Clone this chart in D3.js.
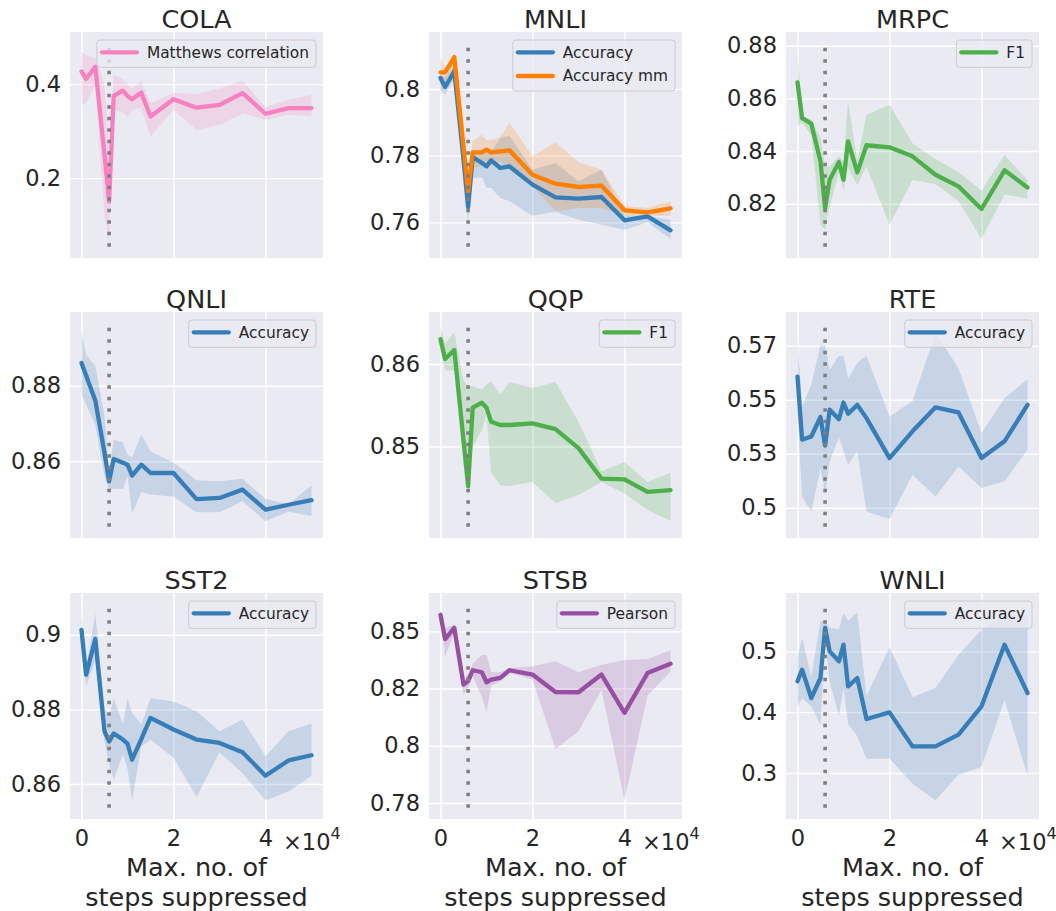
<!DOCTYPE html>
<html>
<head>
<meta charset="utf-8">
<script src="https://cdn.jsdelivr.net/npm/d3@7/dist/d3.min.js"></script>
<style>
body { margin: 0; background: #ffffff; }
svg { font-family: "DejaVu Sans", sans-serif; }
</style>
</head>
<body>
<svg id="chart" width="1056" height="911"></svg>
<script>
// steps at which each run was evaluated
var steps = [0, 1000, 3000, 5000, 6000, 7000, 9000, 10000, 11000, 13000, 15000, 20000, 25000, 30000, 35000, 40000, 45000, 50000];
var markStep = 6000;
var xTicks = [0, 20000, 40000];
var xTickLabels = ['0', '2', '4'];

var colaMcc   = [0.427, 0.411, 0.437, 0.25, 0.150, 0.375, 0.386, 0.375, 0.368, 0.382, 0.331, 0.368, 0.350, 0.356, 0.381, 0.337, 0.349, 0.349];
var colaMccHi = [0.468, 0.462, 0.455, 0.40, 0.25, 0.42, 0.41, 0.40, 0.39, 0.406, 0.36, 0.381, 0.379, 0.391, 0.407, 0.351, 0.367, 0.377];
var colaMccLo = [0.356, 0.36, 0.40, 0.12, 0.06, 0.345, 0.34, 0.33, 0.345, 0.35, 0.289, 0.345, 0.303, 0.313, 0.338, 0.324, 0.335, 0.331];

var mnliAcc   = [0.8033, 0.8006, 0.8053, 0.779, 0.7646, 0.7796, 0.7778, 0.7768, 0.7786, 0.7763, 0.7768, 0.7713, 0.7675, 0.7671, 0.7676, 0.7606, 0.7618, 0.7576];
var mnliAccHi = [0.8043, 0.8035, 0.8068, 0.785, 0.7693, 0.7813, 0.781, 0.7813, 0.781, 0.7853, 0.786, 0.7758, 0.7778, 0.7723, 0.7758, 0.762, 0.762, 0.7608];
var mnliAccLo = [0.7998, 0.7983, 0.803, 0.772, 0.7603, 0.7733, 0.7735, 0.7703, 0.7703, 0.7673, 0.7663, 0.762, 0.7632, 0.7608, 0.7593, 0.7578, 0.76, 0.755];
var mnliMm    = [0.805, 0.805, 0.8096, 0.7827, 0.7693, 0.781, 0.781, 0.7818, 0.781, 0.7813, 0.7816, 0.7743, 0.7716, 0.7706, 0.771, 0.7636, 0.763, 0.7642];
var mnliMmHi  = [0.8096, 0.806, 0.81, 0.79, 0.776, 0.7843, 0.7863, 0.7846, 0.7846, 0.7856, 0.7898, 0.7798, 0.784, 0.778, 0.7758, 0.765, 0.7643, 0.7663];
var mnliMmLo  = [0.7983, 0.8023, 0.806, 0.775, 0.7653, 0.7763, 0.777, 0.7783, 0.777, 0.7783, 0.7758, 0.7708, 0.7633, 0.7643, 0.7643, 0.7618, 0.7618, 0.762];

var mrpcF1   = [0.8661, 0.8525, 0.8504, 0.836, 0.8184, 0.8291, 0.8358, 0.8291, 0.8437, 0.8319, 0.8422, 0.8414, 0.838, 0.831, 0.8266, 0.818, 0.8327, 0.8262];
var mrpcF1Hi = [0.8778, 0.8535, 0.852, 0.845, 0.834, 0.834, 0.838, 0.836, 0.859, 0.836, 0.8538, 0.8576, 0.843, 0.837, 0.832, 0.825, 0.8385, 0.829];
var mrpcF1Lo = [0.8496, 0.8508, 0.846, 0.812, 0.8101, 0.819, 0.832, 0.825, 0.8335, 0.827, 0.8342, 0.812, 0.829, 0.8275, 0.821, 0.8066, 0.8235, 0.822];

var qnliAcc   = [0.886, 0.8827, 0.8761, 0.8622, 0.8547, 0.8606, 0.8596, 0.8591, 0.8562, 0.8591, 0.8569, 0.8569, 0.85, 0.8503, 0.8525, 0.8472, 0.8485, 0.8497];
var qnliAccHi = [0.8941, 0.8882, 0.8853, 0.872, 0.8572, 0.8657, 0.865, 0.8618, 0.861, 0.867, 0.8626, 0.8597, 0.855, 0.8547, 0.8554, 0.85, 0.8486, 0.8536];
var qnliAccLo = [0.8776, 0.875, 0.8697, 0.856, 0.8525, 0.8527, 0.8527, 0.856, 0.8463, 0.8518, 0.8512, 0.8506, 0.8465, 0.8465, 0.8494, 0.8441, 0.8467, 0.8455];

var qqpF1   = [0.863, 0.8606, 0.8617, 0.8508, 0.8452, 0.8547, 0.8553, 0.8547, 0.853, 0.8526, 0.8526, 0.8528, 0.8521, 0.8498, 0.8461, 0.846, 0.8445, 0.8447];
var qqpF1Hi = [0.8645, 0.8625, 0.8638, 0.858, 0.8573, 0.8573, 0.8569, 0.8575, 0.8579, 0.8563, 0.8578, 0.8571, 0.8578, 0.853, 0.847, 0.8481, 0.8457, 0.8468];
var qqpF1Lo = [0.8615, 0.8592, 0.8592, 0.848, 0.844, 0.85, 0.852, 0.8538, 0.8468, 0.8453, 0.8452, 0.8457, 0.8431, 0.8441, 0.8457, 0.8443, 0.8423, 0.841];

var rteAcc   = [0.5536, 0.5302, 0.5314, 0.5386, 0.528, 0.5413, 0.5378, 0.544, 0.5398, 0.5431, 0.5382, 0.5234, 0.5333, 0.5422, 0.5403, 0.5234, 0.5296, 0.5431];
var rteAccHi = [0.5672, 0.5425, 0.5506, 0.5654, 0.565, 0.5561, 0.5613, 0.5613, 0.553, 0.5586, 0.5613, 0.5388, 0.5444, 0.5697, 0.5567, 0.5327, 0.5456, 0.5527];
var rteAccLo = [0.540, 0.5092, 0.5036, 0.5197, 0.510, 0.5222, 0.531, 0.526, 0.5209, 0.5259, 0.5036, 0.5008, 0.5172, 0.5092, 0.5203, 0.5123, 0.5148, 0.5265];

var sst2Acc   = [0.9013, 0.8893, 0.8989, 0.8741, 0.8714, 0.8735, 0.8719, 0.8708, 0.8665, 0.872, 0.8777, 0.8746, 0.8719, 0.871, 0.8685, 0.8622, 0.8663, 0.8677];
var sst2AccHi = [0.906, 0.8906, 0.9058, 0.8804, 0.878, 0.883, 0.876, 0.883, 0.879, 0.876, 0.883, 0.8821, 0.8795, 0.8741, 0.8772, 0.8674, 0.8741, 0.8762];
var sst2AccLo = [0.8987, 0.8862, 0.8933, 0.8714, 0.8652, 0.8612, 0.8679, 0.864, 0.8556, 0.87, 0.8719, 0.867, 0.8565, 0.8685, 0.8629, 0.8556, 0.858, 0.8622];

var stsbPearson   = [0.8508, 0.8423, 0.8462, 0.8264, 0.8276, 0.8314, 0.8307, 0.8272, 0.8281, 0.8287, 0.8314, 0.8299, 0.8238, 0.8237, 0.8299, 0.8165, 0.8304, 0.8337];
var stsbPearsonHi = [0.852, 0.8462, 0.8473, 0.8287, 0.830, 0.8337, 0.8368, 0.8368, 0.8307, 0.8307, 0.8322, 0.8328, 0.8345, 0.8307, 0.8333, 0.8349, 0.8353, 0.8384];
var stsbPearsonLo = [0.850, 0.8363, 0.8444, 0.8229, 0.825, 0.8293, 0.8221, 0.8165, 0.826, 0.8275, 0.8305, 0.8281, 0.8039, 0.8101, 0.8246, 0.786, 0.8225, 0.831];

var wnliAcc   = [0.4507, 0.4699, 0.4233, 0.4562, 0.5384, 0.5, 0.4836, 0.511, 0.4425, 0.4562, 0.3888, 0.3997, 0.3438, 0.3438, 0.363, 0.4096, 0.511, 0.4315];
var wnliAccHi = [0.49, 0.5219, 0.4589, 0.5493, 0.5493, 0.5384, 0.5367, 0.563, 0.5504, 0.5641, 0.426, 0.5071, 0.4249, 0.4397, 0.4945, 0.5356, 0.5586, 0.5603];
var wnliAccLo = [0.4096, 0.4233, 0.4096, 0.3795, 0.52, 0.45, 0.3942, 0.44, 0.3805, 0.3603, 0.3236, 0.3236, 0.2825, 0.2551, 0.2973, 0.3099, 0.4205, 0.2956];

// y limits and ticks per task
var colaLim = [0.030, 0.511], colaTicks = [0.2, 0.4], colaLabels = ['0.2', '0.4'];
var mnliLim = [0.7493, 0.8171], mnliTicks = [0.76, 0.78, 0.8], mnliLabels = ['0.76', '0.78', '0.8'];
var mrpcLim = [0.7994, 0.8852], mrpcTicks = [0.82, 0.84, 0.86, 0.88], mrpcLabels = ['0.82', '0.84', '0.86', '0.88'];
var qnliLim = [0.8397, 0.8995], qnliTicks = [0.86, 0.88], qnliLabels = ['0.86', '0.88'];
var qqpLim = [0.8389, 0.8663], qqpTicks = [0.85, 0.86], qqpLabels = ['0.85', '0.86'];
var rteLim = [0.4938, 0.5775], rteTicks = [0.505, 0.525, 0.545, 0.565], rteLabels = ['0.5', '0.53', '0.55', '0.57'];
var sst2Lim = [0.8506, 0.9112], sst2Ticks = [0.86, 0.88, 0.9], sst2Labels = ['0.86', '0.88', '0.9'];
var stsbLim = [0.7794, 0.8584], stsbTicks = [0.785, 0.805, 0.825, 0.845], stsbLabels = ['0.78', '0.8', '0.82', '0.85'];
var wnliLim = [0.2244, 0.5959], wnliTicks = [0.3, 0.4, 0.5], wnliLabels = ['0.3', '0.4', '0.5'];

var pink = '#f781bf', blue = '#377eb8', orange = '#ff7f00', green = '#4daf4a', purple = '#984ea3';

function series(name, mean, lo, hi, colour)
{
	return { name: name, mean: mean, lo: lo, hi: hi, colour: colour };
}

var panels = [
	{ title: 'COLA', lim: colaLim, ticks: colaTicks, labels: colaLabels, series: [series('Matthews correlation', colaMcc, colaMccLo, colaMccHi, pink)] },
	{ title: 'MNLI', lim: mnliLim, ticks: mnliTicks, labels: mnliLabels, series: [series('Accuracy', mnliAcc, mnliAccLo, mnliAccHi, blue), series('Accuracy mm', mnliMm, mnliMmLo, mnliMmHi, orange)] },
	{ title: 'MRPC', lim: mrpcLim, ticks: mrpcTicks, labels: mrpcLabels, series: [series('F1', mrpcF1, mrpcF1Lo, mrpcF1Hi, green)] },
	{ title: 'QNLI', lim: qnliLim, ticks: qnliTicks, labels: qnliLabels, series: [series('Accuracy', qnliAcc, qnliAccLo, qnliAccHi, blue)] },
	{ title: 'QQP', lim: qqpLim, ticks: qqpTicks, labels: qqpLabels, series: [series('F1', qqpF1, qqpF1Lo, qqpF1Hi, green)] },
	{ title: 'RTE', lim: rteLim, ticks: rteTicks, labels: rteLabels, series: [series('Accuracy', rteAcc, rteAccLo, rteAccHi, blue)] },
	{ title: 'SST2', lim: sst2Lim, ticks: sst2Ticks, labels: sst2Labels, series: [series('Accuracy', sst2Acc, sst2AccLo, sst2AccHi, blue)] },
	{ title: 'STSB', lim: stsbLim, ticks: stsbTicks, labels: stsbLabels, series: [series('Pearson', stsbPearson, stsbPearsonLo, stsbPearsonHi, purple)] },
	{ title: 'WNLI', lim: wnliLim, ticks: wnliTicks, labels: wnliLabels, series: [series('Accuracy', wnliAcc, wnliAccLo, wnliAccHi, blue)] }
];

var colX = [70, 429, 786];
var rowY = [32, 312, 593];
var axW = 253, axH = 226;
var ink = '#262626';

var svg = d3.select('#chart');

function drawPanel(p, idx)
{
	var col = idx % 3, row = Math.floor(idx / 3);
	var bottomRow = row == 2;
	var g = svg.append('g').attr('transform', 'translate(' + colX[col] + ',' + rowY[row] + ')');

	var x = d3.scaleLinear().domain([-2500, 52500]).range([0, axW]);
	var y = d3.scaleLinear().domain(p.lim).range([axH, 0]);

	g.append('rect').attr('width', axW).attr('height', axH).attr('fill', '#eaeaf2');

	// grid + tick labels
	var ya = g.append('g').call(d3.axisLeft(y).tickValues(p.ticks).tickSize(-axW).tickPadding(9)
		.tickFormat( (d, i) => p.labels[i] ));
	var xa = g.append('g').attr('transform', 'translate(0,' + axH + ')')
		.call(d3.axisBottom(x).tickValues(xTicks).tickSize(-axH).tickPadding(11)
		.tickFormat( (d, i) => bottomRow ? xTickLabels[i] : '' ));
	[ya, xa].forEach( a => {
		a.select('.domain').remove();
		a.selectAll('line').attr('stroke', '#ffffff').attr('stroke-width', 1.4);
		a.selectAll('text').attr('fill', ink).style('font-size', '22.5px').style('font-family', '"DejaVu Sans", sans-serif');
	});

	var plot = g.append('g');

	p.series.forEach( s => {
		var rows = steps.map( (st, i) => ({ x: st, m: s.mean[i], lo: s.lo[i], hi: s.hi[i] }) );
		plot.append('path').datum(rows)
			.attr('d', d3.area().x(d => x(d.x)).y0(d => y(d.lo)).y1(d => y(d.hi)))
			.attr('fill', s.colour).attr('fill-opacity', 0.2);
	});
	p.series.forEach( s => {
		var rows = steps.map( (st, i) => ({ x: st, m: s.mean[i] }) );
		plot.append('path').datum(rows)
			.attr('d', d3.line().x(d => x(d.x)).y(d => y(d.m)))
			.attr('fill', 'none').attr('stroke', s.colour).attr('stroke-width', 4.3)
			.attr('stroke-linejoin', 'round').attr('stroke-linecap', 'round');
	});

	// dotted marker, drawn bottom to top like the original
	g.append('line')
		.attr('x1', x(markStep)).attr('x2', x(markStep))
		.attr('y1', axH * 0.95).attr('y2', axH * 0.05)
		.attr('stroke', '#7f7f7f').attr('stroke-width', 3.6)
		.attr('stroke-dasharray', '3.5 8');

	// title
	g.append('text').attr('x', axW / 2).attr('y', -4).attr('text-anchor', 'middle')
		.attr('fill', ink).style('font-size', '25.5px').text(p.title);

	// legend
	var leg = g.append('g');
	var box = leg.append('rect');
	var maxW = 0;
	p.series.forEach( (s, i) => {
		var cy = 20.3 + i * 23.7;
		leg.append('line').attr('x1', 5).attr('x2', 40).attr('y1', cy).attr('y2', cy)
			.attr('stroke', s.colour).attr('stroke-width', 4.3).attr('stroke-linecap', 'round');
		var t = leg.append('text').attr('x', 50).attr('y', cy).attr('dy', '0.35em')
			.attr('fill', ink).style('font-size', '15.4px').text(s.name);
		maxW = Math.max(maxW, t.node().getComputedTextLength());
	});
	var bw = 50 + maxW + 7, bh = 27.3 + (p.series.length - 1) * 23.7;
	box.attr('x', 0).attr('y', 8).attr('width', bw).attr('height', bh).attr('rx', 3)
		.attr('fill', '#eaeaf2').attr('fill-opacity', 0.8).attr('stroke', '#cccccc').attr('stroke-width', 1);
	leg.attr('transform', 'translate(' + (axW - 7 - bw) + ',0)');

	if (bottomRow)
	{
		var off = g.append('text').attr('x', axW - 40).attr('y', axH + 31).attr('fill', ink).style('font-size', '22.5px');
		off.append('tspan').text('\u00d710');
		off.append('tspan').attr('dy', -11).style('font-size', '16px').text('4');

		g.append('text').attr('x', axW / 2).attr('y', axH + 57).attr('text-anchor', 'middle')
			.attr('fill', ink).style('font-size', '25.5px').text('Max. no. of');
		g.append('text').attr('x', axW / 2).attr('y', axH + 87).attr('text-anchor', 'middle')
			.attr('fill', ink).style('font-size', '25.5px').text('steps suppressed');
	}
}

panels.forEach(drawPanel);
</script>
</body>
</html>
